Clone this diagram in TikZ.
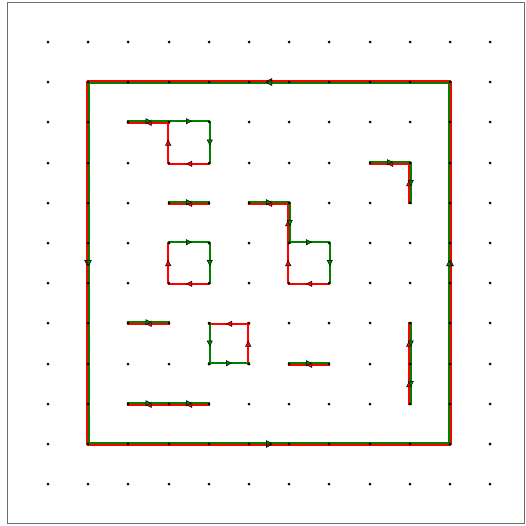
\documentclass[tikz,border=0pt]{standalone}
\usetikzlibrary{arrows.meta,decorations.markings}
\definecolor{gcol}{RGB}{0,128,0}
\definecolor{rcol}{RGB}{255,0,0}
\definecolor{framecol}{RGB}{110,110,110}
\tikzset{
  gline/.style={draw=gcol, line width=1.5pt, line cap=rect,
    postaction={decorate, decoration={markings,
      mark=at position 0.5 with {\pgftransformxshift{3pt}\arrow{Triangle[length=6pt,width=6pt,color=black,fill=gcol,line width=0.5pt]}}}}},
  rline/.style={draw=rcol, line width=1.5pt, line cap=rect,
    postaction={decorate, decoration={markings,
      mark=at position 0.5 with {\pgftransformxshift{3pt}\arrow{Triangle[length=6pt,width=6pt,color=black,fill=rcol,line width=0.5pt]}}}}},
  gdot/.style={circle, fill=black, inner sep=0pt, minimum size=3pt}}
\newcommand\eseg[6]{%
  \pgfmathsetmacro\segox{#6*0.8*sign(#5-#3)}%
  \pgfmathsetmacro\segoy{-#6*0.8*sign(#4-#2)}%
  \draw[#1] ([xshift=\segox pt, yshift=-\segoy pt]p-#2-#3) -- ([xshift=\segox pt, yshift=-\segoy pt]p-#4-#5);}
\begin{document}
\begin{tikzpicture}[x=1pt,y=-1pt]
\useasboundingbox (0,0) rectangle (526,525);
\draw[framecol, line width=1pt] (7.5,2.5) rectangle (524.5,523.5);
\foreach \i in {0,...,11}{\foreach \j in {0,...,11}{%
  \pgfmathsetmacro\gx{round(48+40.2*\i)}\pgfmathsetmacro\gy{round(42+40.2*\j)}%
  \coordinate (p-\i-\j) at (\gx, \gy);}}
% outer loop
\eseg{rline}{10}{1}{1}{1}{-1}
\eseg{rline}{1}{1}{1}{10}{-1}
\eseg{rline}{1}{10}{10}{10}{-1}
\eseg{rline}{10}{10}{10}{1}{-1}
\eseg{gline}{10}{1}{1}{1}{1}
\eseg{gline}{1}{1}{1}{10}{1}
\eseg{gline}{1}{10}{10}{10}{1}
\eseg{gline}{10}{10}{10}{1}{1}
% path A
\eseg{rline}{4}{3}{3}{3}{1}
\eseg{rline}{3}{3}{3}{2}{1}
\eseg{rline}{3}{2}{2}{2}{1}
\eseg{gline}{2}{2}{3}{2}{1}
\eseg{gline}{3}{2}{4}{2}{1}
\eseg{gline}{4}{2}{4}{3}{1}
% segment
\eseg{rline}{4}{4}{3}{4}{1}
\eseg{gline}{3}{4}{4}{4}{1}
% square B
\eseg{rline}{4}{6}{3}{6}{1}
\eseg{rline}{3}{6}{3}{5}{1}
\eseg{gline}{3}{5}{4}{5}{1}
\eseg{gline}{4}{5}{4}{6}{1}
% path C
\eseg{rline}{7}{6}{6}{6}{1}
\eseg{rline}{6}{6}{6}{5}{1}
\eseg{rline}{6}{5}{6}{4}{1}
\eseg{rline}{6}{4}{5}{4}{1}
\eseg{gline}{5}{4}{6}{4}{1}
\eseg{gline}{6}{4}{6}{5}{1}
\eseg{gline}{6}{5}{7}{5}{1}
\eseg{gline}{7}{5}{7}{6}{1}
% path D
\eseg{rline}{9}{4}{9}{3}{1}
\eseg{rline}{9}{3}{8}{3}{1}
\eseg{gline}{8}{3}{9}{3}{1}
\eseg{gline}{9}{3}{9}{4}{1}
% segment E
\eseg{rline}{3}{7}{2}{7}{1}
\eseg{gline}{2}{7}{3}{7}{1}
% square F
\eseg{rline}{5}{8}{5}{7}{1}
\eseg{rline}{5}{7}{4}{7}{1}
\eseg{gline}{4}{7}{4}{8}{1}
\eseg{gline}{4}{8}{5}{8}{1}
% G
\eseg{rline}{4}{9}{3}{9}{1}
\eseg{rline}{3}{9}{2}{9}{1}
\eseg{gline}{2}{9}{3}{9}{1}
\eseg{gline}{3}{9}{4}{9}{1}
% H
\eseg{rline}{7}{8}{6}{8}{1}
\eseg{gline}{6}{8}{7}{8}{1}
% I
\eseg{rline}{9}{9}{9}{8}{1}
\eseg{rline}{9}{8}{9}{7}{1}
\eseg{gline}{9}{7}{9}{8}{1}
\eseg{gline}{9}{8}{9}{9}{1}
% dots
\foreach \i in {0,...,11}{\foreach \j in {0,...,11}{\node[gdot] (d-\i-\j) at (p-\i-\j) {};}}
\end{tikzpicture}
\end{document}
